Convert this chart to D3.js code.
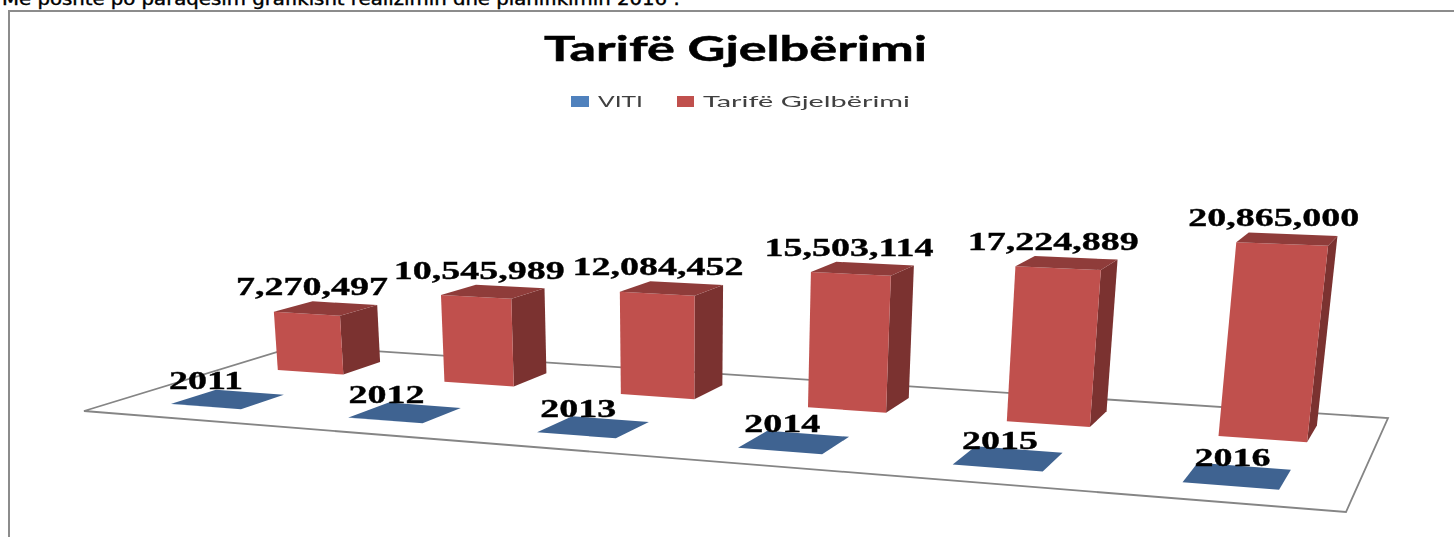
<!DOCTYPE html>
<html>
<head>
<meta charset="utf-8">
<script src="https://cdn.jsdelivr.net/npm/d3@7"></script>
<style>
html,body{margin:0;padding:0;background:#fff;overflow:hidden}
svg{display:block}
#plot{filter:blur(0.5px)}
</style>
</head>
<body>
<svg id="chart" width="1454" height="537"></svg>
<script>
const categories = ["2011", "2012", "2013", "2014", "2015", "2016"];
const yearValues = [2011, 2012, 2013, 2014, 2015, 2016];
const tariffValues = [7270497, 10545989, 12084452, 15503114, 17224889, 20865000];
const seriesNames = ["VITI", "Tarifë Gjelbërimi"];
const titleText = "Tarifë Gjelbërimi";
const introText = "Më poshtë po paraqesim grafikisht realizimin dhe planifikimin 2016 :";

const root = d3.select("#chart");

// Page frame and clipped sentence above the chart
root.append("text").attr("x", 2).attr("y", 5)
  .attr("font-family", "DejaVu Sans").attr("font-size", 17).attr("fill", "#000")
  .attr("stroke", "#000").attr("stroke-width", 0.4)
  .attr("textLength", 678).attr("lengthAdjust", "spacingAndGlyphs").text(introText);
root.append("path").attr("d", "M9,537V11H1454").attr("fill", "none")
  .attr("stroke", "#8c8c8c").attr("stroke-width", 2);

const svg = root.append("g").attr("id", "plot");

// Floor of the 3-D plot: unit square mapped on to its picture with a homography
const floor = { fl: [84, 411], fr: [1346, 512], br: [1388, 418], bl: [297, 346] };
const homography = (() => {
  const [x0, y0] = floor.fl, [x1, y1] = floor.fr, [x2, y2] = floor.br, [x3, y3] = floor.bl;
  const dx1 = x1 - x2, dx2 = x3 - x2, sx = x0 - x1 + x2 - x3;
  const dy1 = y1 - y2, dy2 = y3 - y2, sy = y0 - y1 + y2 - y3;
  const den = dx1 * dy2 - dx2 * dy1;
  const g = (sx * dy2 - dx2 * sy) / den, h = (dx1 * sy - sx * dy1) / den;
  const a = x1 - x0 + g * x1, b = x3 - x0 + h * x3;
  const d = y1 - y0 + g * y1, e = y3 - y0 + h * y3;
  return (u, v) => {
    const w = g * u + h * v + 1;
    return [(a * u + b * v + x0) / w, (d * u + e * v + y0) / w];
  };
})();

const uScale = d3.scaleBand().domain(categories).range([0, 1]).paddingInner(0.6).paddingOuter(0.3);
const vScale = d3.scaleBand().domain(seriesNames).range([0, 1]).paddingInner(0.6).paddingOuter(0.3);
const valueScale = d3.scaleLinear().domain([0, 1e6]).range([0, 1]);
const unitHeight = d3.scaleLinear().domain([370, 440]).range([8.0, 9.37]);
const vanish = [680, 6300];

function lift(p, value) {
  const h = valueScale(value) * unitHeight(p[1]);
  const f = 1 + h / (vanish[1] - p[1]);
  return [vanish[0] + (p[0] - vanish[0]) * f, vanish[1] + (p[1] - vanish[1]) * f];
}
function box(category, series, value) {
  const u0 = uScale(category), u1 = u0 + uScale.bandwidth();
  const v0 = vScale(series), v1 = v0 + vScale.bandwidth();
  const b = { fl: homography(u0, v0), fr: homography(u1, v0), br: homography(u1, v1), bl: homography(u0, v1) };
  const t = { fl: lift(b.fl, value), fr: lift(b.fr, value), br: lift(b.br, value), bl: lift(b.bl, value) };
  return { b, t };
}
const poly = d3.line();
const closed = pts => poly(pts) + "Z";

svg.append("path")
  .attr("d", closed([floor.fl, floor.fr, floor.br, floor.bl]))
  .attr("fill", "#fff").attr("stroke", "#858585").attr("stroke-width", 1.8);

const rows = [
  { series: seriesNames[1], values: tariffValues, front: "#C0504D", side: "#7B3230", top: "#8F3C3A" },
  { series: seriesNames[0], values: yearValues, front: "#4F81BD", side: "#2F4D71", top: "#3F6391" }
];

rows.forEach(row => {
  const g = svg.append("g");
  const boxes = categories.map((c, i) => box(c, row.series, row.values[i]));
  g.selectAll("path.side").data(boxes).join("path").attr("class", "side")
    .attr("d", d => closed([d.b.fr, d.b.br, d.t.br, d.t.fr])).attr("fill", row.side);
  g.selectAll("path.front").data(boxes).join("path").attr("class", "front")
    .attr("d", d => closed([d.b.fl, d.b.fr, d.t.fr, d.t.fl])).attr("fill", row.front);
  g.selectAll("path.top").data(boxes).join("path").attr("class", "top")
    .attr("d", d => closed([d.t.fl, d.t.fr, d.t.br, d.t.bl])).attr("fill", row.top);
});

// Data labels
const stretched = (sel) => sel
  .attr("font-family", "Liberation Serif").attr("font-weight", "bold")
  .attr("font-size", 25).attr("fill", "#000").attr("stroke", "#000").attr("stroke-width", 0.35)
  .attr("text-anchor", "middle");
const centre = d => [
  (d.t.fl[0] + d.t.fr[0] + d.t.br[0] + d.t.bl[0]) / 4,
  (d.t.fl[1] + d.t.fr[1] + d.t.br[1] + d.t.bl[1]) / 4
];
const fmt = d3.format(",");

svg.append("g").selectAll("text").data(tariffValues).join("text").call(stretched)
  .attr("transform", (v, i) => {
    const c = centre(box(categories[i], seriesNames[1], v));
    return `translate(${c[0] - 14},${c[1] - 13}) scale(1.52,1)`;
  }).text(fmt);

const yearShift = d3.scaleLinear().domain([0, categories.length - 1]).range([-22, -5]);
svg.append("g").selectAll("text").data(yearValues).join("text").call(stretched)
  .attr("transform", (v, i) => {
    const c = centre(box(categories[i], seriesNames[0], v));
    return `translate(${c[0] + yearShift(i)},${c[1] - 10}) scale(1.52,1)`;
  }).text(String);

// Title
svg.append("text").attr("x", 544).attr("y", 61)
  .attr("font-family", "Lato").attr("font-weight", "bold").attr("font-size", 35)
  .attr("fill", "#000").attr("stroke", "#000").attr("stroke-width", 0.5)
  .attr("textLength", 383).attr("lengthAdjust", "spacingAndGlyphs").text(titleText);

// Legend
const legendColors = ["#4F81BD", "#C0504D"];
const legendSwatch = [[571, 18], [677, 17]];
const legendText = [[598, 45], [703, 207]];
const legend = svg.append("g").selectAll("g").data(seriesNames).join("g");
legend.append("rect")
  .attr("x", (d, i) => legendSwatch[i][0]).attr("y", 96)
  .attr("width", (d, i) => legendSwatch[i][1]).attr("height", 11)
  .attr("fill", (d, i) => legendColors[i]);
legend.append("text")
  .attr("x", (d, i) => legendText[i][0]).attr("y", 107)
  .attr("font-family", "Lato").attr("font-size", 16).attr("fill", "#404040")
  .attr("textLength", (d, i) => legendText[i][1]).attr("lengthAdjust", "spacingAndGlyphs")
  .text(d => d);
</script>
</body>
</html>
